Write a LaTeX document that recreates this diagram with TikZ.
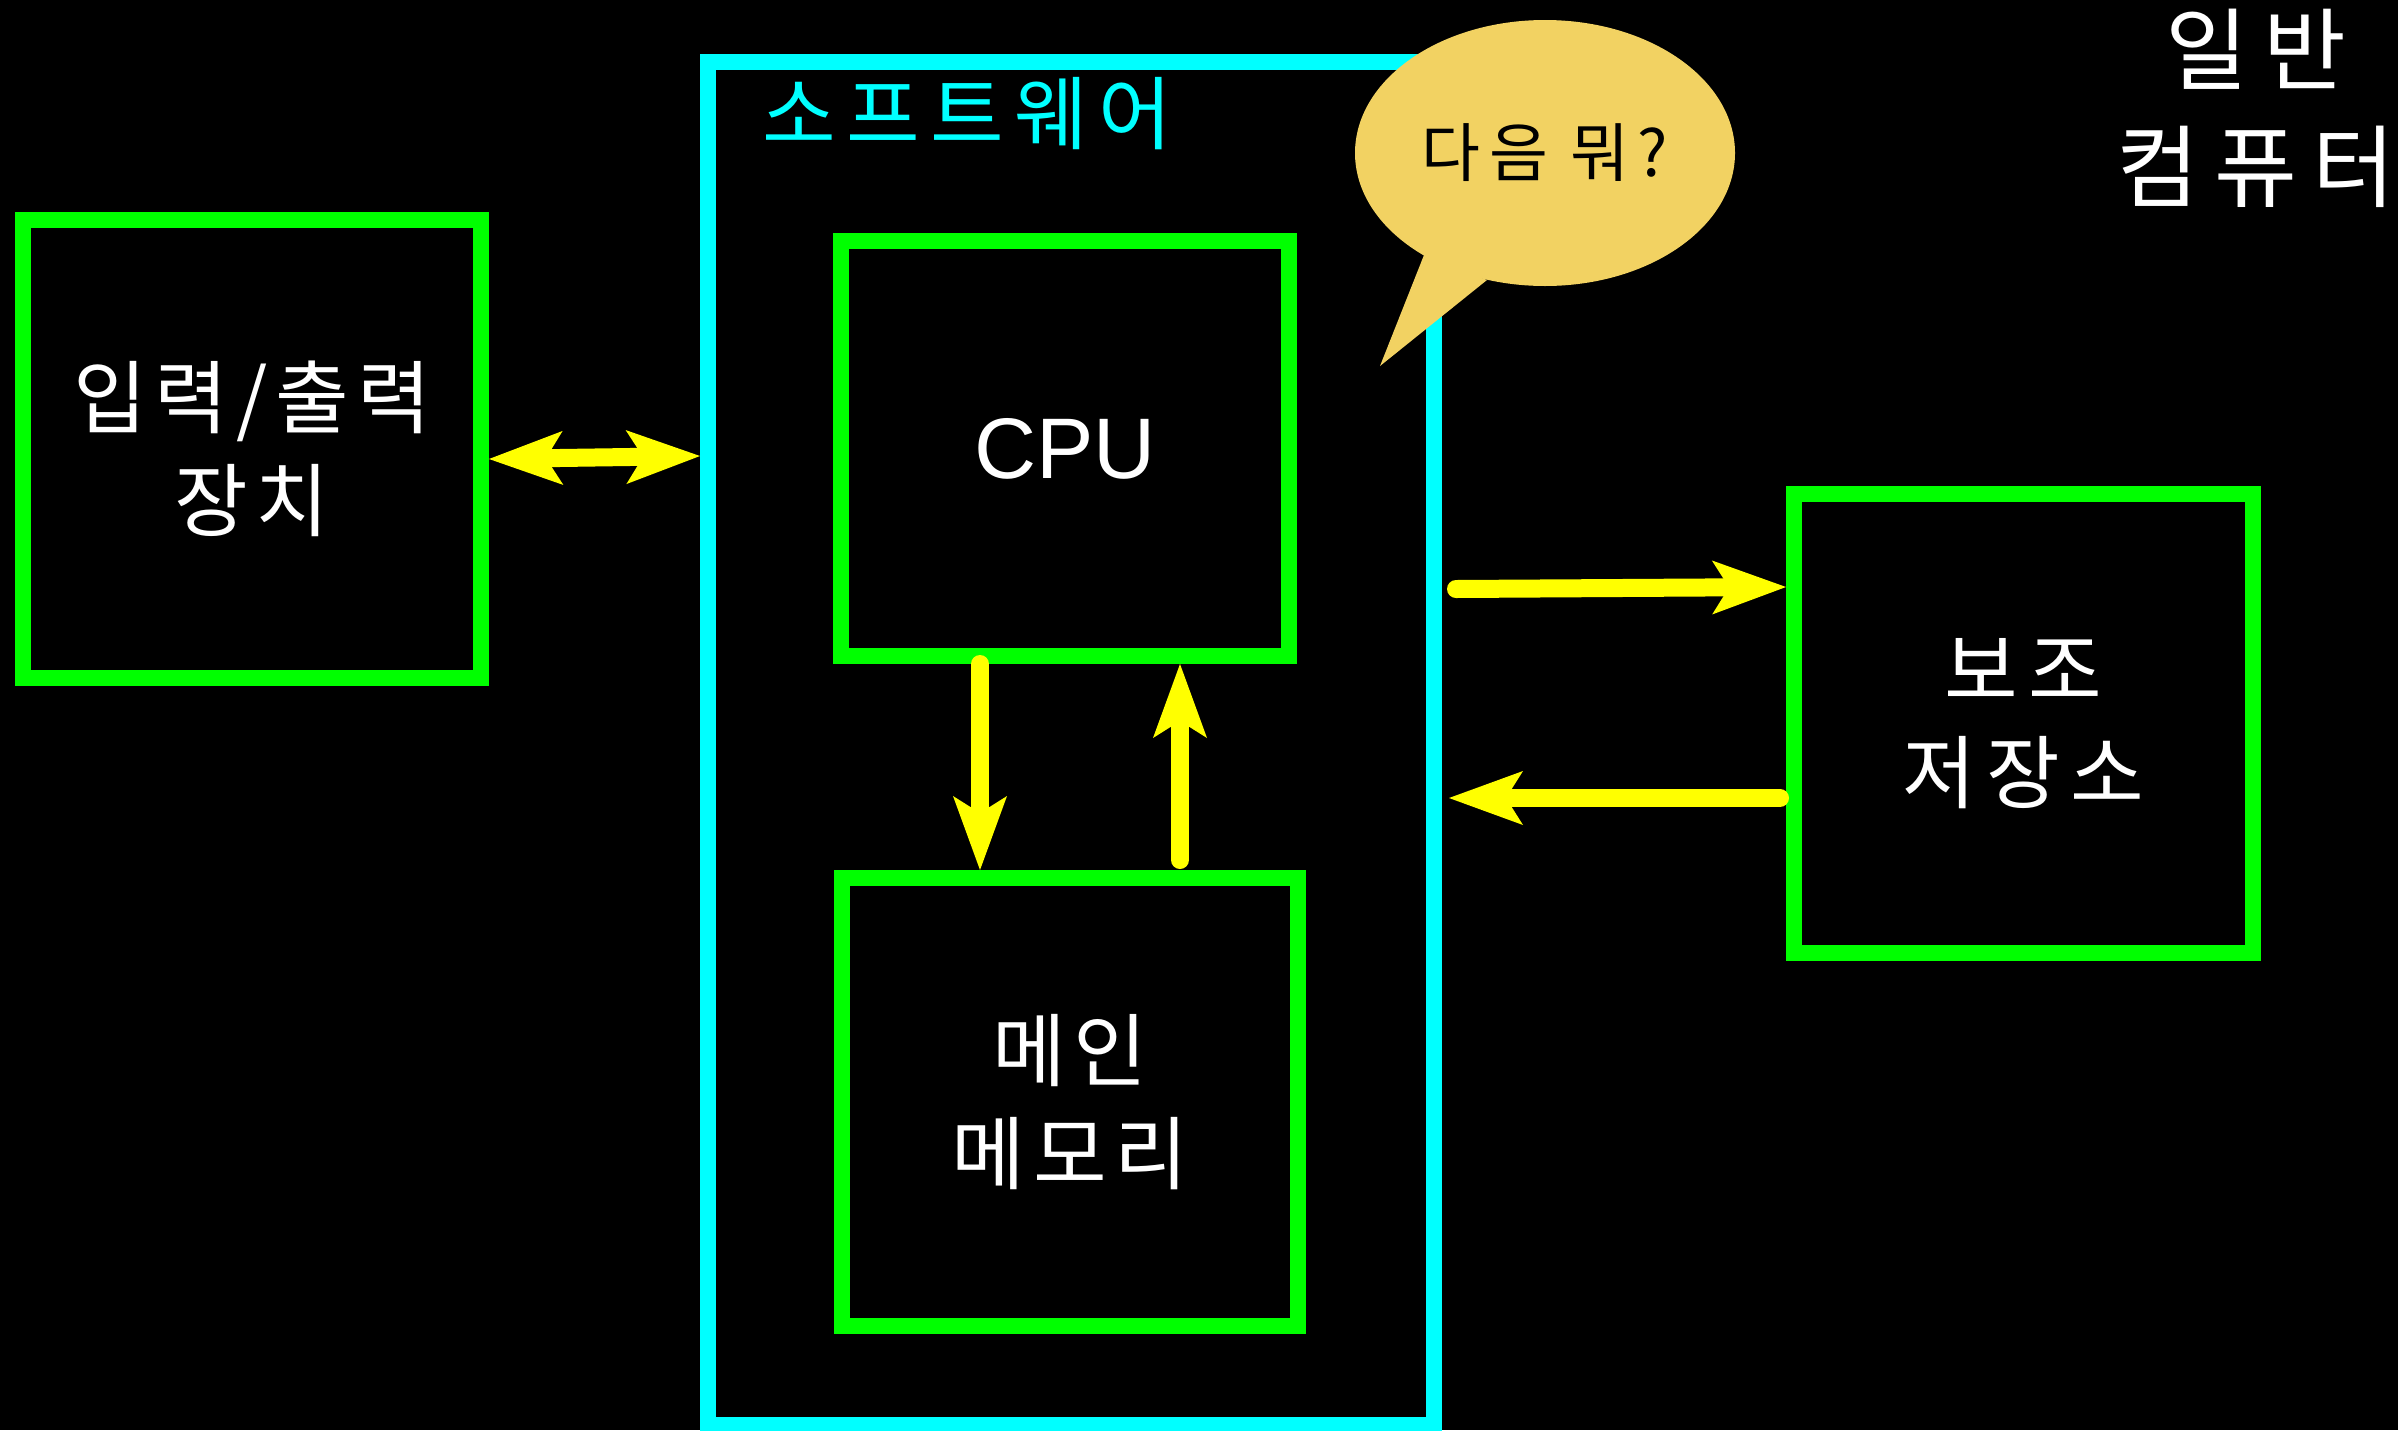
\documentclass[tikz,border=0pt]{standalone}
\usepackage{fontspec}
\setmainfont{Liberation Sans}
\newfontfamily\kr{Noto Sans CJK KR}[LetterSpace=10]
\newfontfamily\krw{Noto Sans CJK KR}[LetterSpace=17]
\newfontfamily\krs{Noto Sans CJK KR}[LetterSpace=13]
\usetikzlibrary{arrows.meta,shapes.geometric,calc}
\definecolor{grn}{RGB}{0,255,0}
\definecolor{cyn}{RGB}{0,255,255}
\definecolor{ylw}{RGB}{255,255,0}
\definecolor{gold}{RGB}{242,210,98}
\begin{document}
\begin{tikzpicture}[x=1pt,y=-1pt,
  box/.style={draw=grn,line width=16pt,rectangle,inner sep=0pt,text=white,
    font=\kr\fontsize{80}{103}\selectfont,align=center},
  tipa/.tip={Stealth[length=74pt,width=54pt,inset=17pt,line width=0pt]},
  arr/.style={draw=ylw,line width=18pt,line cap=round,-tipa},
  dbl/.style={draw=ylw,line width=18pt,tipa-tipa}]
\fill[black] (0,0) rectangle (2398,1430);
\useasboundingbox (0,0) rectangle (2398,1430);

% software frame
\node[draw=cyn,line width=16pt,rectangle,inner sep=0pt,
  minimum width=726pt,minimum height=1363pt] (sw) at (1071,743.5) {};
\node[text=cyn,font=\krs\fontsize{80}{96}\selectfont,anchor=west,inner sep=0pt]
  (swl) at (762,114) {소프트웨어};

% boxes
\node[box,minimum width=458pt,minimum height=458pt] (io) at (252,449) {입력/출력\\장치};
\node[box,minimum width=448pt,minimum height=415pt,
  font=\fontsize{86}{100}\selectfont] (cpu) at (1065,448.5) {CPU};
\node[box,minimum width=456pt,minimum height=448pt] (mem) at (1070,1102) {메인\\메모리};
\node[box,minimum width=459pt,minimum height=459pt,font=\krs\fontsize{80}{103}\selectfont]
  (sto) at (2023.5,723.5) {보조\\저장소};

% title
\node[text=white,font=\krw\fontsize{90}{117}\selectfont,align=center,inner sep=0pt]
  (title) at (2256,108) {일반\\컴퓨터};

% arrows
\draw[dbl] (io.east |- 0,459) -- (sw.west |- 0,456);
\draw[arr] (980,0 |- cpu.south) -- (980,0 |- mem.north);
\draw[arr] ($(1180,0 |- mem.north)+(0,-10)$) -- (1180,0 |- cpu.south);
\draw[arr] ($(sw.east |- 0,589)+(14,0)$) -- (sto.west |- 0,587);
\draw[arr] ($(sto.west |- 0,798)+(-6,0)$) -- ($(sw.east |- 0,798)+(7,0)$);

% speech bubble
\node[ellipse,fill=gold,minimum width=380pt,minimum height=266pt,inner sep=0pt]
  (bub) at (1545,153) {};
\fill[gold] (1424,255) -- (1380,366) -- (1487,280) -- cycle;
\node[text=black,font=\krs\fontsize{64}{70}\selectfont,inner sep=0pt]
  (bubt) at (bub.center) {다음 뭐?};
\end{tikzpicture}
\end{document}
